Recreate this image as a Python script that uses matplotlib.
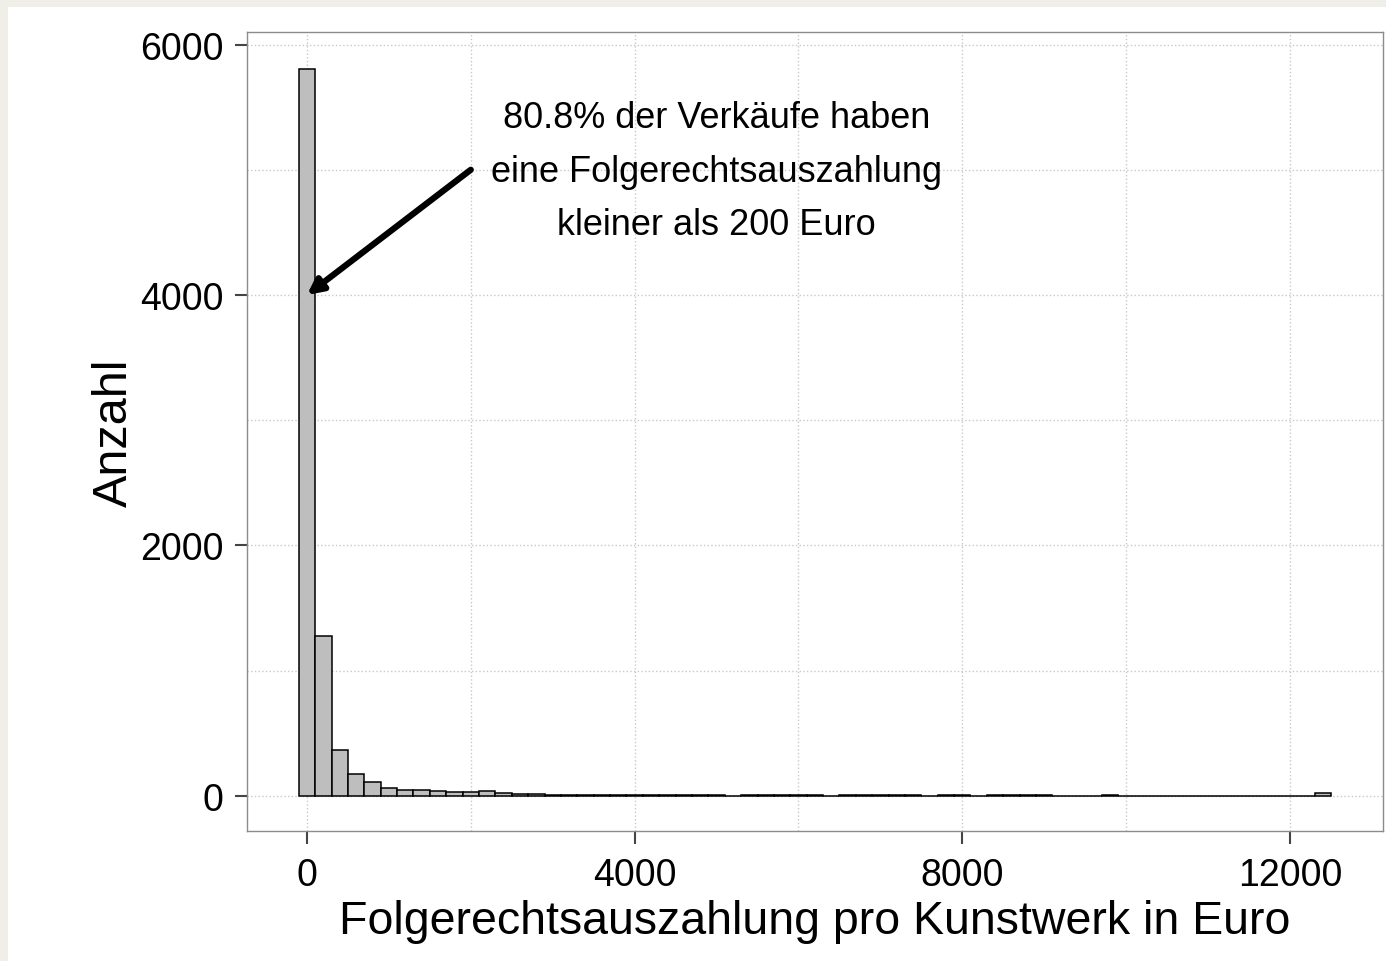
import numpy as np
import matplotlib.pyplot as plt
from matplotlib.patches import Rectangle

plt.rcParams['font.family'] = ['Liberation Sans', 'DejaVu Sans']

# Histogramm: Klassenbreite 200 Euro, Klassenmitten 0, 200, ..., 12400
bin_width = 200
counts = [5807, 1277, 367, 178, 112, 64, 48, 48, 37, 29, 35, 40, 27, 19, 13, 11, 11,
          8, 7, 6, 5, 6, 5, 4, 5, 6, 3, 5, 5, 4, 6, 4, 1, 5, 5, 4, 4, 5, 2, 5, 4,
          3, 5, 4, 4, 4, 3, 1, 3, 4, 2, 1, 2, 3, 1, 3, 2, 2, 2, 2, 2, 1, 20]
centers = np.arange(len(counts)) * bin_width

x_ticks = [0, 4000, 8000, 12000]
y_ticks = [0, 2000, 4000, 6000]
note = '80.8% der Verkäufe haben\neine Folgerechtsauszahlung\nkleiner als 200 Euro'

fig = plt.figure(figsize=(13.86, 9.62), dpi=100, facecolor='#EFEFE8')
fig.patches.append(Rectangle((8 / 1386, 0), 1, 1 - 8 / 962, transform=fig.transFigure,
                             facecolor='white', edgecolor='none', zorder=-10))
ax = fig.add_axes([0.1782, 0.1351, 0.8196, 0.8306])

ax.bar(centers, counts, width=bin_width, color='#BEBEBE', edgecolor='black',
       linewidth=1.1, zorder=3)

ax.set_xlim(-732, 13135)
ax.set_ylim(-280, 6100)
ax.set_xticks(x_ticks)
ax.set_yticks(y_ticks)
ax.set_xticks(np.arange(0, 12001, 2000), minor=True)
ax.set_yticks(np.arange(0, 6001, 1000), minor=True)
ax.tick_params(which='minor', length=0)
ax.grid(True, which='both', linestyle=':', color='#c8c8c8', linewidth=1, zorder=0)
ax.set_axisbelow(True)

ax.tick_params(axis='both', which='major', labelsize=27, length=9, width=1.5,
               color='#444444', pad=8)
ax.tick_params(axis='x', pad=10)
for s in ax.spines.values():
    s.set_color('#8c8c8c')
    s.set_linewidth(1)

ax.set_xlabel('Folgerechtsauszahlung pro Kunstwerk in Euro', fontsize=33.5, labelpad=4)
ax.set_ylabel('Anzahl', fontsize=35, labelpad=2)

ax.annotate('', xy=(0, 4000), xytext=(2000, 5000),
            arrowprops=dict(arrowstyle='-|>,head_length=0.9,head_width=0.45',
                            color='black', lw=4.5, shrinkA=0, shrinkB=0), zorder=5)
ax.text(5000, 4990, note, ha='center', va='center', fontsize=26, linespacing=1.69,
        zorder=5)

fig.savefig('out.png', dpi=100, facecolor=fig.get_facecolor())
